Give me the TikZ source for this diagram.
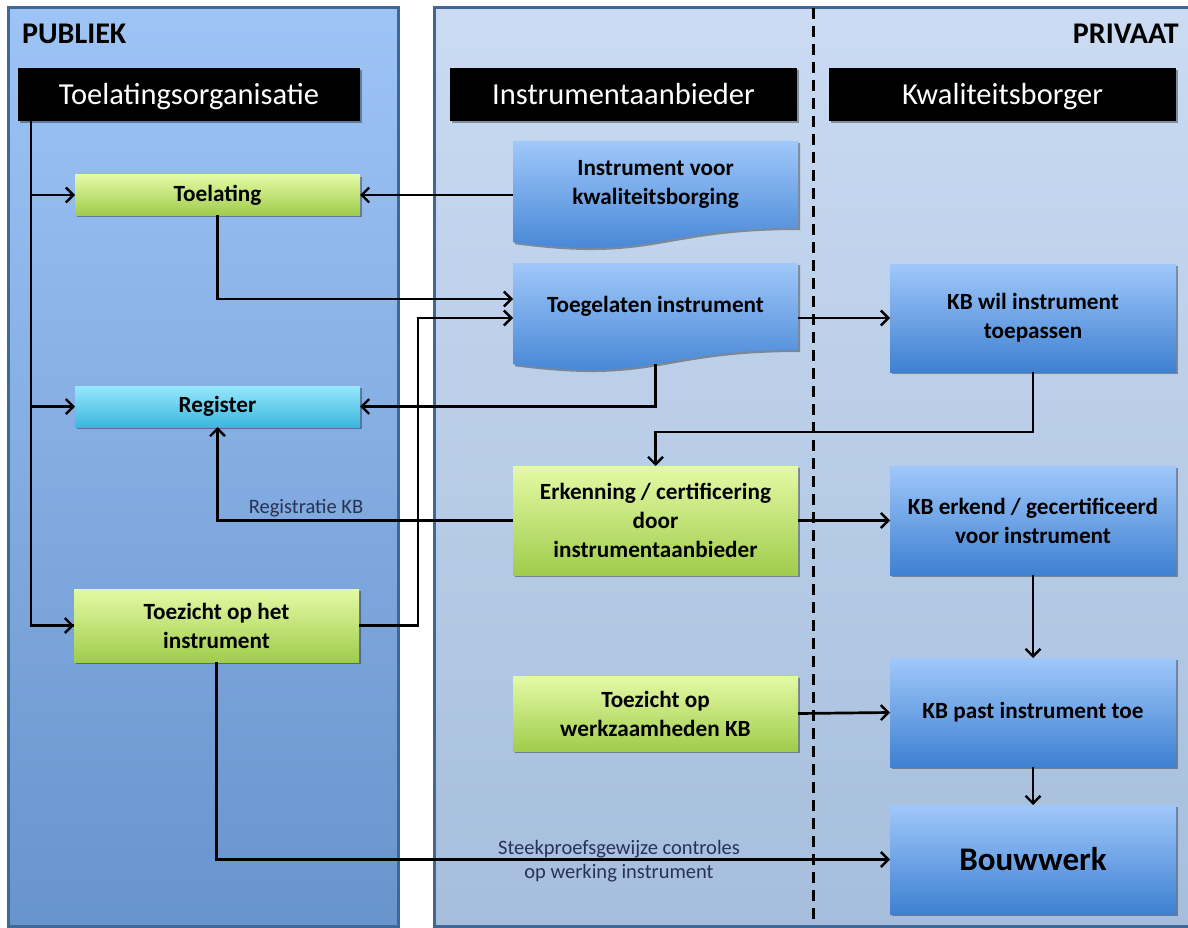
\documentclass[tikz,border=0pt]{standalone}
\usepackage{fontspec}
\setmainfont{Carlito}
\usetikzlibrary{arrows.meta,shadows,calc}
\pgfdeclarelayer{bg}
\pgfdeclarelayer{mid}
\pgfsetlayers{bg,mid,main}

\definecolor{pubtop}{RGB}{158,196,246}
\definecolor{pubbot}{RGB}{104,148,204}
\definecolor{privtop}{RGB}{202,219,242}
\definecolor{privbot}{RGB}{166,190,220}
\definecolor{panelborder}{RGB}{62,104,153}
\definecolor{greentop}{RGB}{228,250,165}
\definecolor{greenbot}{RGB}{160,204,76}
\definecolor{cyantop}{RGB}{150,232,252}
\definecolor{cyanbot}{RGB}{60,182,222}
\definecolor{bluetop}{RGB}{160,200,250}
\definecolor{bluebot}{RGB}{62,128,210}
\definecolor{labeltext}{RGB}{40,50,85}

\tikzset{
  shd/.style={drop shadow={shadow xshift=2pt, shadow yshift=-2pt, opacity=0.35, fill=black}},
  boxtext/.style={align=center, text=black, inner sep=2pt, outer sep=0pt, anchor=north west,
    font=\bfseries\fontsize{23.2}{29}\selectfont},
  greenbox/.style={boxtext, shd, top color=greentop, bottom color=greenbot},
  cyanbox/.style={boxtext, shd, top color=cyantop, bottom color=cyanbot},
  bluebox/.style={boxtext, shd, top color=bluetop, bottom color=bluebot},
  docbox/.style={boxtext},
  header/.style={fill=black, text=white, shd, anchor=north west, outer sep=0pt,
    font=\fontsize{30.5}{35}\selectfont, minimum height=53pt, text depth=2pt},
  side/.style={font=\bfseries\fontsize{30}{34}\selectfont, text=black, inner sep=0pt},
  lbl/.style={font=\fontsize{20.5}{24}\selectfont, text=labeltext, inner sep=0pt},
  arr/.style={line width=2.7pt, -{Straight Barb[length=7.5pt,width=15pt,line width=2.4pt]}},
  ln/.style={line width=2.7pt}
}

\begin{document}
\begin{tikzpicture}[x=1pt,y=-1pt]
\useasboundingbox (0,0) rectangle (1188,928);
\clip (0,0) rectangle (1188,928);

% panels
\begin{pgfonlayer}{bg}
  \shade[top color=pubtop, bottom color=pubbot] (8,8) rectangle (398,926);
  \draw[panelborder, line width=3pt] (8,8) rectangle (398,926);
  \shade[top color=privtop, bottom color=privbot] (434,8) rectangle (1200,926);
  \draw[panelborder, line width=3pt] (434,8) rectangle (1200,926);
  \draw[black, line width=3pt, dash pattern=on 11pt off 7pt] (813,8) -- (813,926);
\end{pgfonlayer}

\node[side, anchor=west] (publiek) at (22,34) {PUBLIEK};
\node[side, anchor=east] (privaat) at (1179,34) {PRIVAAT};

% headers
\node[header, minimum width=342pt] (org) at (18,68) {Toelatingsorganisatie};
\node[header, minimum width=347pt] (ia) at (450,68) {Instrumentaanbieder};
\node[header, minimum width=347pt] (kbh) at (829,68) {Kwaliteitsborger};

% left column
\node[greenbox, minimum width=285pt, minimum height=40pt] (toel) at (75,175) {Toelating};
\node[cyanbox, minimum width=285pt, minimum height=41pt] (reg) at (75,386) {Register};
\node[greenbox, minimum width=285pt, minimum height=73pt] (tz) at (74,589) {Toezicht op het\\instrument};

% middle column
\node[docbox, minimum width=285pt, minimum height=87pt] (ivk) at (513,141) {Instrument voor\\kwaliteitsborging};
\node[docbox, minimum width=285pt, minimum height=87pt] (ti) at (513,263) {Toegelaten instrument};
\node[greenbox, minimum width=285pt, minimum height=109pt] (erk) at (513,466) {Erkenning / certificering\\door\\instrumentaanbieder};
\node[greenbox, minimum width=285pt, minimum height=75pt] (tw) at (513,676) {Toezicht op\\werkzaamheden KB};

% right column
\node[bluebox, minimum width=286pt, minimum height=108pt] (kbw) at (890,264) {KB wil instrument\\toepassen};
\node[bluebox, minimum width=286pt, minimum height=109pt] (kbe) at (890,466) {KB erkend / gecertificeerd\\voor instrument};
\node[bluebox, minimum width=286pt, minimum height=109pt] (kbp) at (890,658) {KB past instrument toe};
\node[bluebox, minimum width=286pt, minimum height=109pt, font=\bfseries\fontsize{33}{38}\selectfont] (bw) at (890,805) {Bouwwerk};

% document shapes
\begin{pgfonlayer}{mid}
  \foreach \d in {ivk,ti}{
    \shade[top color=bluetop, bottom color=bluebot, shd]
      (\d.north west) -- (\d.north east) -- (\d.south east)
      .. controls (\d.south) and ($(\d.south)+(0,33)$) .. ($(\d.south west)+(0,14.3)$) -- cycle;
  }
\end{pgfonlayer}
\coordinate (tibot) at ($(ti.south)+(0,14)$);

% connectors
\coordinate (trunk) at (31,121);
\draw[ln] (trunk) |- (tz.west);
\draw[arr] (trunk |- tz.west) -- (tz.west);
\draw[arr] (trunk |- toel.west) -- (toel.west);
\draw[arr] (trunk |- reg.west) -- (reg.west);

\draw[arr] (ivk.west |- toel.east) -- (toel.east);
\draw[arr] (toel.south) |- ($(ti.west)+(0,-7.5)$);
\draw[arr] (tz.east) -- ++(59,0) |- ($(ti.west)+(0,11.5)$);
\draw[arr] (tibot) |- (reg.east);
\draw[arr] (ti.east |- kbw.west) -- (kbw.west);
\draw[arr] (kbw.south) -- ++(0,60) -| (erk.north);
\draw[arr] (erk.west) -| (reg.south);
\node[lbl] (regkb) at (306,508) {Registratie KB};
\draw[arr] (erk.east) -- (kbe.west);
\draw[arr] (kbe.south) -- (kbp.north);
\draw[arr] (tw.east) -- (kbp.west);
\draw[arr] (kbp.south) -- (bw.north);
\draw[arr] (tz.south) |- (bw.west);
\node[lbl] (sk1) at (619,849) {Steekproefsgewijze controles};
\node[lbl] (sk2) at (619,873) {op werking instrument};
\end{tikzpicture}
\end{document}
